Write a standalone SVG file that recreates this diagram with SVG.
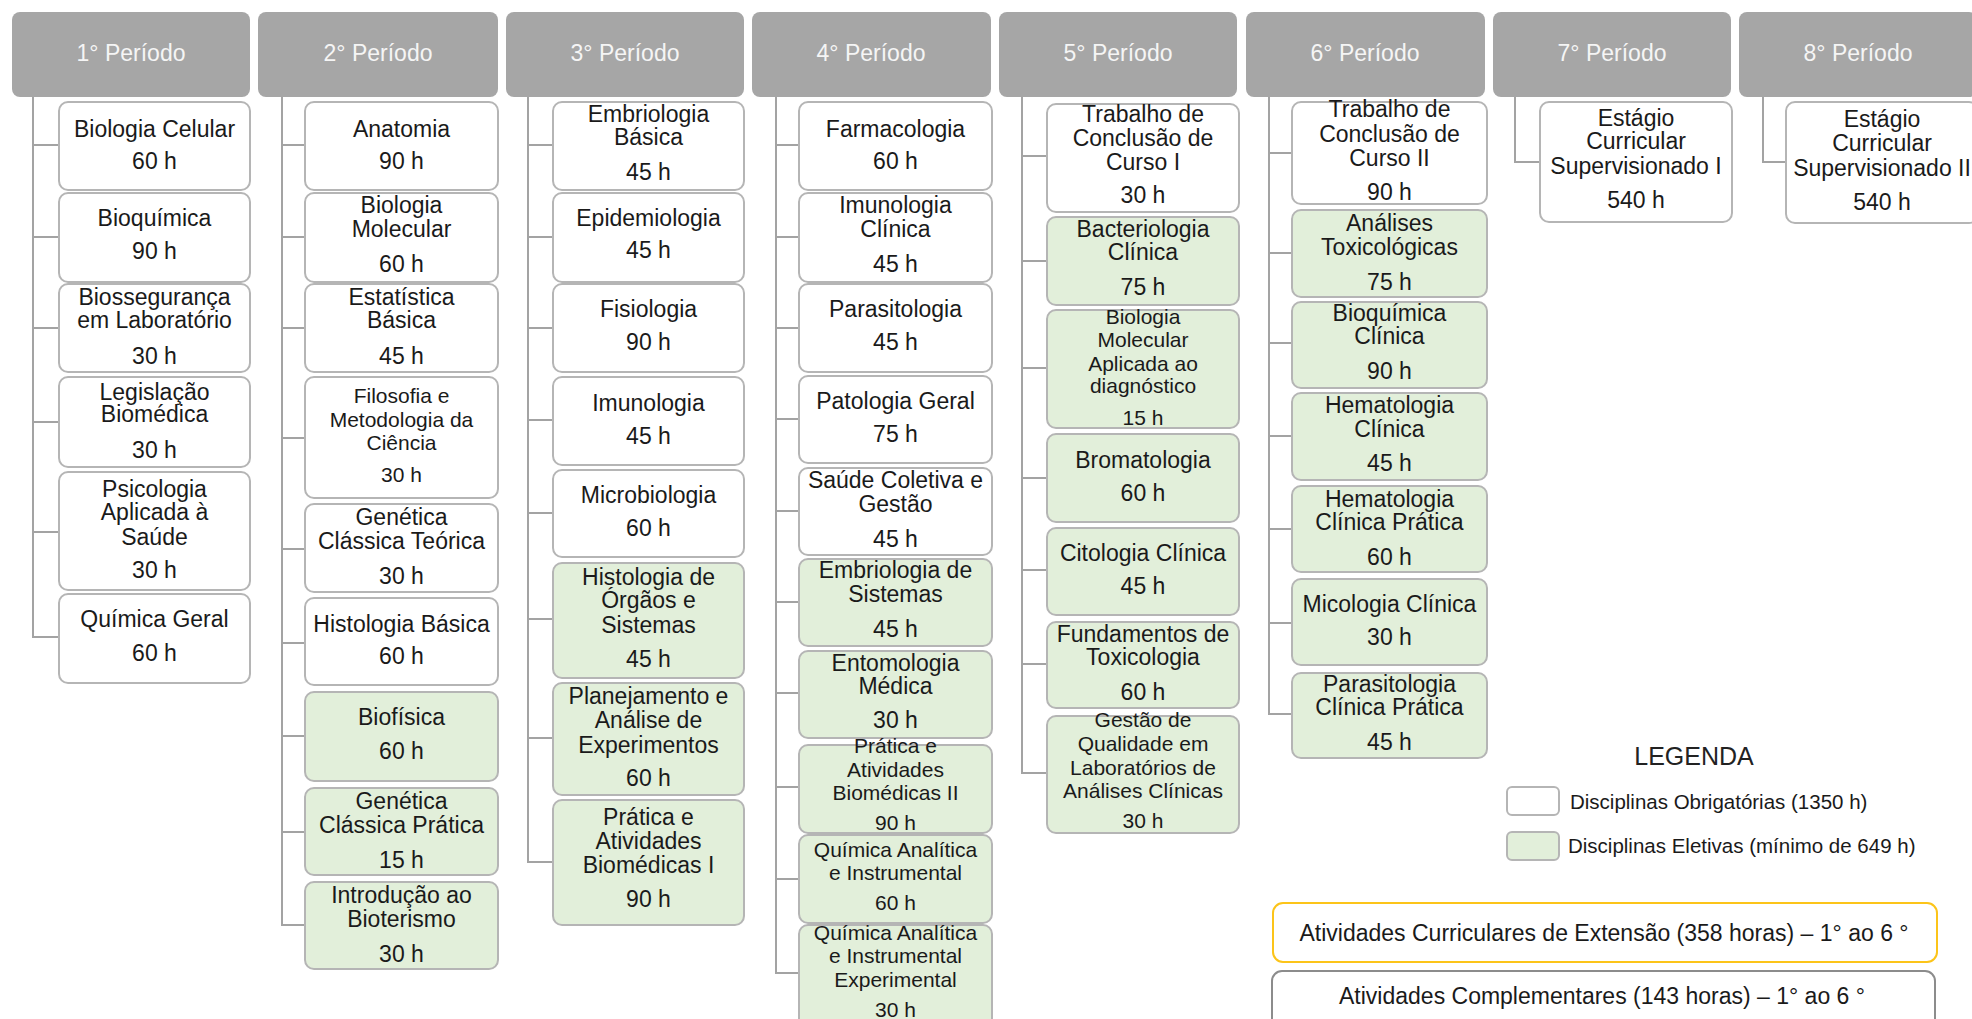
<svg xmlns="http://www.w3.org/2000/svg" width="1972" height="1019" viewBox="0 0 1972 1019">
<style>
.hd{fill:#a6a6a6}
.ht{font-family:"Liberation Sans",Arial,sans-serif;font-size:23px;fill:#f5f5f5;text-anchor:middle}
.n{fill:#ffffff;stroke:#b5b5b5;stroke-width:2}
.g{fill:#e2efda;stroke:#b5b5b5;stroke-width:2}
.t{font-family:"Liberation Sans",Arial,sans-serif;font-size:23px;fill:#1a1a1a;text-anchor:middle}
.s{font-size:21px}
.c{fill:none;stroke:#a3a3a3;stroke-width:2}
</style>
<rect width="1972" height="1019" fill="#ffffff"/>
<g id="headers">
<g id="h1"><rect class="hd" x="12" y="12" width="238" height="85" rx="8"/><text class="ht" x="131" y="61">1° Período</text></g>
<g id="h2"><rect class="hd" x="258" y="12" width="240" height="85" rx="8"/><text class="ht" x="378" y="61">2° Período</text></g>
<g id="h3"><rect class="hd" x="506" y="12" width="238" height="85" rx="8"/><text class="ht" x="625" y="61">3° Período</text></g>
<g id="h4"><rect class="hd" x="752" y="12" width="239" height="85" rx="8"/><text class="ht" x="871" y="61">4° Período</text></g>
<g id="h5"><rect class="hd" x="999" y="12" width="238" height="85" rx="8"/><text class="ht" x="1118" y="61">5° Período</text></g>
<g id="h6"><rect class="hd" x="1246" y="12" width="239" height="85" rx="8"/><text class="ht" x="1365" y="61">6° Período</text></g>
<g id="h7"><rect class="hd" x="1493" y="12" width="238" height="85" rx="8"/><text class="ht" x="1612" y="61">7° Período</text></g>
<g id="h8"><rect class="hd" x="1739" y="12" width="238" height="85" rx="8"/><text class="ht" x="1858" y="61">8° Período</text></g>
</g>
<g id="connectors">
<path class="c" d="M33 97V637H59M33 145H59M33 237H59M33 328H59M33 422H59M33 532H59"/>
<path class="c" d="M282 97V925H305M282 145H305M282 237H305M282 328H305M282 438H305M282 549H305M282 643H305M282 736H305M282 832H305"/>
<path class="c" d="M528 97V862H553M528 145H553M528 237H553M528 328H553M528 420H553M528 513H553M528 619H553M528 738H553"/>
<path class="c" d="M776 97V973H799M776 145H799M776 237H799M776 328H799M776 419H799M776 511H799M776 602H799M776 693H799M776 787H799M776 879H799"/>
<path class="c" d="M1022 97V773H1047M1022 156H1047M1022 261H1047M1022 368H1047M1022 478H1047M1022 570H1047M1022 664H1047"/>
<path class="c" d="M1269 97V714H1292M1269 153H1292M1269 253H1292M1269 343H1292M1269 436H1292M1269 529H1292M1269 623H1292"/>
<path class="c" d="M1515 97V162H1540"/>
<path class="c" d="M1763 97V162H1786"/>
</g>
<g id="p1">
<g id="biologia-celular"><rect class="n" x="59" y="102" width="191" height="88" rx="9"/><text class="t"><tspan x="154.5" y="137">Biologia Celular</tspan><tspan x="154.5" y="169">60 h</tspan></text></g>
<g id="bioquimica"><rect class="n" x="59" y="193" width="191" height="89" rx="9"/><text class="t"><tspan x="154.5" y="226">Bioquímica</tspan><tspan x="154.5" y="259">90 h</tspan></text></g>
<g id="biosseguranca"><rect class="n" x="59" y="284" width="191" height="88" rx="9"/><text class="t"><tspan x="154.5" y="305">Biossegurança</tspan><tspan x="154.5" y="328">em Laboratório</tspan><tspan x="154.5" y="364">30 h</tspan></text></g>
<g id="legislacao"><rect class="n" x="59" y="377" width="191" height="90" rx="9"/><text class="t"><tspan x="154.5" y="400">Legislação</tspan><tspan x="154.5" y="422">Biomédica</tspan><tspan x="154.5" y="458">30 h</tspan></text></g>
<g id="psicologia"><rect class="n" x="59" y="472" width="191" height="118" rx="9"/><text class="t"><tspan x="154.5" y="497">Psicologia</tspan><tspan x="154.5" y="520">Aplicada à</tspan><tspan x="154.5" y="545">Saúde</tspan><tspan x="154.5" y="578">30 h</tspan></text></g>
<g id="quimica-geral"><rect class="n" x="59" y="594" width="191" height="89" rx="9"/><text class="t"><tspan x="154.5" y="627">Química Geral</tspan><tspan x="154.5" y="661">60 h</tspan></text></g>
</g>
<g id="p2">
<g id="anatomia"><rect class="n" x="305" y="102" width="193" height="88" rx="9"/><text class="t"><tspan x="401.5" y="137">Anatomia</tspan><tspan x="401.5" y="169">90 h</tspan></text></g>
<g id="biologia-molecular"><rect class="n" x="305" y="193" width="193" height="89" rx="9"/><text class="t"><tspan x="401.5" y="213">Biologia</tspan><tspan x="401.5" y="237">Molecular</tspan><tspan x="401.5" y="272">60 h</tspan></text></g>
<g id="estatistica"><rect class="n" x="305" y="284" width="193" height="88" rx="9"/><text class="t"><tspan x="401.5" y="305">Estatística</tspan><tspan x="401.5" y="328">Básica</tspan><tspan x="401.5" y="364">45 h</tspan></text></g>
<g id="filosofia"><rect class="n" x="305" y="377" width="193" height="121" rx="9"/><text class="t"><tspan class="s" x="401.5" y="403">Filosofia e</tspan><tspan class="s" x="401.5" y="427">Metodologia da</tspan><tspan class="s" x="401.5" y="450">Ciência</tspan><tspan class="s" x="401.5" y="482">30 h</tspan></text></g>
<g id="genetica-teorica"><rect class="n" x="305" y="504" width="193" height="88" rx="9"/><text class="t"><tspan x="401.5" y="525">Genética</tspan><tspan x="401.5" y="549">Clássica Teórica</tspan><tspan x="401.5" y="584">30 h</tspan></text></g>
<g id="histologia-basica"><rect class="n" x="305" y="598" width="193" height="87" rx="9"/><text class="t"><tspan x="401.5" y="632">Histologia Básica</tspan><tspan x="401.5" y="664">60 h</tspan></text></g>
<g id="biofisica"><rect class="g" x="305" y="692" width="193" height="89" rx="9"/><text class="t"><tspan x="401.5" y="725">Biofísica</tspan><tspan x="401.5" y="759">60 h</tspan></text></g>
<g id="genetica-pratica"><rect class="g" x="305" y="788" width="193" height="87" rx="9"/><text class="t"><tspan x="401.5" y="809">Genética</tspan><tspan x="401.5" y="833">Clássica Prática</tspan><tspan x="401.5" y="868">15 h</tspan></text></g>
<g id="bioterismo"><rect class="g" x="305" y="882" width="193" height="87" rx="9"/><text class="t"><tspan x="401.5" y="903">Introdução ao</tspan><tspan x="401.5" y="927">Bioterismo</tspan><tspan x="401.5" y="962">30 h</tspan></text></g>
</g>
<g id="p3">
<g id="embriologia-basica"><rect class="n" x="553" y="102" width="191" height="88" rx="9"/><text class="t"><tspan x="648.5" y="122">Embriologia</tspan><tspan x="648.5" y="145">Básica</tspan><tspan x="648.5" y="180">45 h</tspan></text></g>
<g id="epidemiologia"><rect class="n" x="553" y="193" width="191" height="89" rx="9"/><text class="t"><tspan x="648.5" y="226">Epidemiologia</tspan><tspan x="648.5" y="258">45 h</tspan></text></g>
<g id="fisiologia"><rect class="n" x="553" y="284" width="191" height="88" rx="9"/><text class="t"><tspan x="648.5" y="317">Fisiologia</tspan><tspan x="648.5" y="350">90 h</tspan></text></g>
<g id="imunologia"><rect class="n" x="553" y="377" width="191" height="88" rx="9"/><text class="t"><tspan x="648.5" y="411">Imunologia</tspan><tspan x="648.5" y="444">45 h</tspan></text></g>
<g id="microbiologia"><rect class="n" x="553" y="470" width="191" height="87" rx="9"/><text class="t"><tspan x="648.5" y="503">Microbiologia</tspan><tspan x="648.5" y="536">60 h</tspan></text></g>
<g id="histologia-orgaos"><rect class="g" x="553" y="563" width="191" height="115" rx="9"/><text class="t"><tspan x="648.5" y="585">Histologia de</tspan><tspan x="648.5" y="608">Órgãos e</tspan><tspan x="648.5" y="633">Sistemas</tspan><tspan x="648.5" y="667">45 h</tspan></text></g>
<g id="planejamento"><rect class="g" x="553" y="683" width="191" height="112" rx="9"/><text class="t"><tspan x="648.5" y="704">Planejamento e</tspan><tspan x="648.5" y="728">Análise de</tspan><tspan x="648.5" y="753">Experimentos</tspan><tspan x="648.5" y="786">60 h</tspan></text></g>
<g id="pratica-1"><rect class="g" x="553" y="800" width="191" height="125" rx="9"/><text class="t"><tspan x="648.5" y="825">Prática e</tspan><tspan x="648.5" y="849">Atividades</tspan><tspan x="648.5" y="873">Biomédicas I</tspan><tspan x="648.5" y="907">90 h</tspan></text></g>
</g>
<g id="p4">
<g id="farmacologia"><rect class="n" x="799" y="102" width="193" height="88" rx="9"/><text class="t"><tspan x="895.5" y="137">Farmacologia</tspan><tspan x="895.5" y="169">60 h</tspan></text></g>
<g id="imunologia-clinica"><rect class="n" x="799" y="193" width="193" height="89" rx="9"/><text class="t"><tspan x="895.5" y="213">Imunologia</tspan><tspan x="895.5" y="237">Clínica</tspan><tspan x="895.5" y="272">45 h</tspan></text></g>
<g id="parasitologia"><rect class="n" x="799" y="284" width="193" height="88" rx="9"/><text class="t"><tspan x="895.5" y="317">Parasitologia</tspan><tspan x="895.5" y="350">45 h</tspan></text></g>
<g id="patologia"><rect class="n" x="799" y="376" width="193" height="87" rx="9"/><text class="t"><tspan x="895.5" y="409">Patologia Geral</tspan><tspan x="895.5" y="442">75 h</tspan></text></g>
<g id="saude-coletiva"><rect class="n" x="799" y="468" width="193" height="87" rx="9"/><text class="t"><tspan x="895.5" y="488">Saúde Coletiva e</tspan><tspan x="895.5" y="512">Gestão</tspan><tspan x="895.5" y="547">45 h</tspan></text></g>
<g id="embriologia-sistemas"><rect class="g" x="799" y="559" width="193" height="87" rx="9"/><text class="t"><tspan x="895.5" y="578">Embriologia de</tspan><tspan x="895.5" y="602">Sistemas</tspan><tspan x="895.5" y="637">45 h</tspan></text></g>
<g id="entomologia"><rect class="g" x="799" y="651" width="193" height="87" rx="9"/><text class="t"><tspan x="895.5" y="671">Entomologia</tspan><tspan x="895.5" y="694">Médica</tspan><tspan x="895.5" y="728">30 h</tspan></text></g>
<g id="pratica-2"><rect class="g" x="799" y="745" width="193" height="88" rx="9"/><text class="t"><tspan class="s" x="895.5" y="753">Prática e</tspan><tspan class="s" x="895.5" y="777">Atividades</tspan><tspan class="s" x="895.5" y="800">Biomédicas II</tspan><tspan class="s" x="895.5" y="830">90 h</tspan></text></g>
<g id="quimica-analitica"><rect class="g" x="799" y="835" width="193" height="88" rx="9"/><text class="t"><tspan class="s" x="895.5" y="857">Química Analítica</tspan><tspan class="s" x="895.5" y="880">e Instrumental</tspan><tspan class="s" x="895.5" y="910">60 h</tspan></text></g>
<g id="quimica-experimental"><rect class="g" x="799" y="925" width="193" height="110" rx="9"/><text class="t"><tspan class="s" x="895.5" y="940">Química Analítica</tspan><tspan class="s" x="895.5" y="963">e Instrumental</tspan><tspan class="s" x="895.5" y="987">Experimental</tspan><tspan class="s" x="895.5" y="1017">30 h</tspan></text></g>
</g>
<g id="p5">
<g id="tcc-1"><rect class="n" x="1047" y="104" width="192" height="108" rx="9"/><text class="t"><tspan x="1143" y="122">Trabalho de</tspan><tspan x="1143" y="146">Conclusão de</tspan><tspan x="1143" y="170">Curso I</tspan><tspan x="1143" y="203">30 h</tspan></text></g>
<g id="bacteriologia"><rect class="g" x="1047" y="217" width="192" height="88" rx="9"/><text class="t"><tspan x="1143" y="237">Bacteriologia</tspan><tspan x="1143" y="260">Clínica</tspan><tspan x="1143" y="295">75 h</tspan></text></g>
<g id="biomol-diagnostico"><rect class="g" x="1047" y="310" width="192" height="118" rx="9"/><text class="t"><tspan class="s" x="1143" y="324">Biologia</tspan><tspan class="s" x="1143" y="347">Molecular</tspan><tspan class="s" x="1143" y="371">Aplicada ao</tspan><tspan class="s" x="1143" y="393">diagnóstico</tspan><tspan class="s" x="1143" y="425">15 h</tspan></text></g>
<g id="bromatologia"><rect class="g" x="1047" y="434" width="192" height="88" rx="9"/><text class="t"><tspan x="1143" y="468">Bromatologia</tspan><tspan x="1143" y="501">60 h</tspan></text></g>
<g id="citologia"><rect class="g" x="1047" y="528" width="192" height="87" rx="9"/><text class="t"><tspan x="1143" y="561">Citologia Clínica</tspan><tspan x="1143" y="594">45 h</tspan></text></g>
<g id="fundamentos-toxicologia"><rect class="g" x="1047" y="622" width="192" height="86" rx="9"/><text class="t"><tspan x="1143" y="642">Fundamentos de</tspan><tspan x="1143" y="665">Toxicologia</tspan><tspan x="1143" y="700">60 h</tspan></text></g>
<g id="gestao-qualidade"><rect class="g" x="1047" y="716" width="192" height="117" rx="9"/><text class="t"><tspan class="s" x="1143" y="727">Gestão de</tspan><tspan class="s" x="1143" y="751">Qualidade em</tspan><tspan class="s" x="1143" y="775">Laboratórios de</tspan><tspan class="s" x="1143" y="798">Análises Clínicas</tspan><tspan class="s" x="1143" y="828">30 h</tspan></text></g>
</g>
<g id="p6">
<g id="tcc-2"><rect class="n" x="1292" y="102" width="195" height="102" rx="9"/><text class="t"><tspan x="1389.5" y="117">Trabalho de</tspan><tspan x="1389.5" y="142">Conclusão de</tspan><tspan x="1389.5" y="166">Curso II</tspan><tspan x="1389.5" y="200">90 h</tspan></text></g>
<g id="analises-toxicologicas"><rect class="g" x="1292" y="210" width="195" height="87" rx="9"/><text class="t"><tspan x="1389.5" y="231">Análises</tspan><tspan x="1389.5" y="255">Toxicológicas</tspan><tspan x="1389.5" y="290">75 h</tspan></text></g>
<g id="bioquimica-clinica"><rect class="g" x="1292" y="302" width="195" height="86" rx="9"/><text class="t"><tspan x="1389.5" y="321">Bioquímica</tspan><tspan x="1389.5" y="344">Clínica</tspan><tspan x="1389.5" y="379">90 h</tspan></text></g>
<g id="hematologia-clinica"><rect class="g" x="1292" y="393" width="195" height="87" rx="9"/><text class="t"><tspan x="1389.5" y="413">Hematologia</tspan><tspan x="1389.5" y="437">Clínica</tspan><tspan x="1389.5" y="471">45 h</tspan></text></g>
<g id="hematologia-pratica"><rect class="g" x="1292" y="486" width="195" height="86" rx="9"/><text class="t"><tspan x="1389.5" y="507">Hematologia</tspan><tspan x="1389.5" y="530">Clínica Prática</tspan><tspan x="1389.5" y="565">60 h</tspan></text></g>
<g id="micologia"><rect class="g" x="1292" y="579" width="195" height="86" rx="9"/><text class="t"><tspan x="1389.5" y="612">Micologia Clínica</tspan><tspan x="1389.5" y="645">30 h</tspan></text></g>
<g id="parasitologia-pratica"><rect class="g" x="1292" y="673" width="195" height="85" rx="9"/><text class="t"><tspan x="1389.5" y="692">Parasitologia</tspan><tspan x="1389.5" y="715">Clínica Prática</tspan><tspan x="1389.5" y="750">45 h</tspan></text></g>
</g>
<g id="p7">
<g id="estagio-1"><rect class="n" x="1540" y="102" width="192" height="120" rx="9"/><text class="t"><tspan x="1636" y="126">Estágio</tspan><tspan x="1636" y="149">Curricular</tspan><tspan x="1636" y="174">Supervisionado I</tspan><tspan x="1636" y="208">540 h</tspan></text></g>
</g>
<g id="p8">
<g id="estagio-2"><rect class="n" x="1786" y="102" width="192" height="121" rx="9"/><text class="t"><tspan x="1882" y="127">Estágio</tspan><tspan x="1882" y="151">Curricular</tspan><tspan x="1882" y="176">Supervisionado II</tspan><tspan x="1882" y="210">540 h</tspan></text></g>
</g>
<g id="legend">
<text x="1694" y="765" style="font-family:'Liberation Sans',Arial,sans-serif;font-size:25px;fill:#222;text-anchor:middle">LEGENDA</text>
<rect class="n" x="1507" y="787" width="52" height="28" rx="5"/>
<text x="1570" y="809" style="font-family:'Liberation Sans',Arial,sans-serif;font-size:20.5px;fill:#1a1a1a">Disciplinas Obrigatórias (1350 h)</text>
<rect class="g" x="1507" y="832" width="52" height="28" rx="5"/>
<text x="1568" y="853" style="font-family:'Liberation Sans',Arial,sans-serif;font-size:20.5px;fill:#1a1a1a">Disciplinas Eletivas (mínimo de 649 h)</text>
</g>
<g id="extensao"><rect x="1273" y="903" width="664" height="59" rx="10" fill="#ffffff" stroke="#fcc419" stroke-width="2"/><text class="t" x="1604" y="941">Atividades Curriculares de Extensão (358 horas) – 1° ao 6 °</text></g>
<g id="complementares"><rect x="1272" y="971" width="663" height="70" rx="10" fill="#ffffff" stroke="#8c8c8c" stroke-width="2"/><text class="t" x="1602" y="1004">Atividades Complementares (143 horas) – 1° ao 6 °</text></g>
</svg>
